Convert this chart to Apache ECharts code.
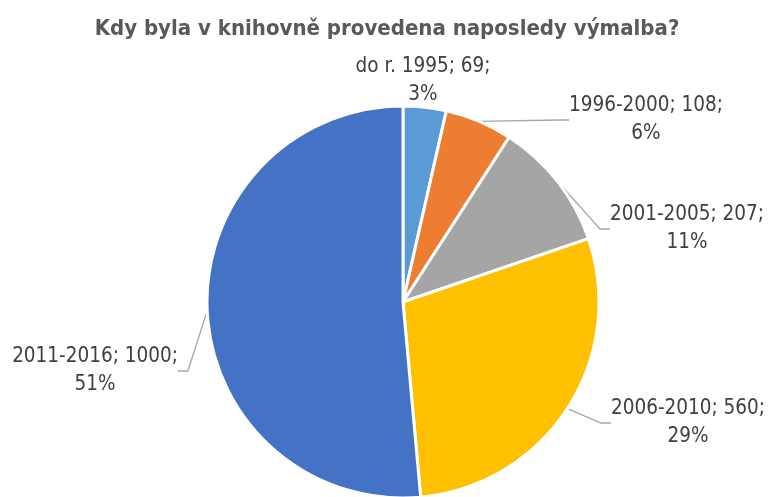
<!DOCTYPE html>
<html>
<head>
<meta charset="utf-8">
<script src="https://cdn.jsdelivr.net/npm/echarts@6/dist/echarts.min.js"></script>
<style>
  html, body { margin: 0; padding: 0; background: #fff; }
  #chart { width: 774px; height: 497px; }
</style>
</head>
<body>
<div id="chart"></div>
<script>
const categories = ['do r. 1995', '1996-2000', '2001-2005', '2006-2010', '2011-2016']
const counts = [69, 108, 207, 560, 1000]
const percents = [3, 6, 11, 29, 51]
const colors = ['#5B9BD5', '#ED7D31', '#A5A5A5', '#FFC000', '#4472C4']

// where each label sits (centre of the text block)
const labelSpots = [
  [423, 81], [646, 120], [687, 229], [688, 423], [95, 371]
]

const font = '"Liberation Sans Narrow", "DejaVu Sans Condensed", "Roboto", sans-serif'

const chart = echarts.init(document.getElementById('chart'))

const option = {
  animation: false,
  title: {
    text: 'Kdy byla v knihovně provedena naposledy výmalba?',
    left: 'center',
    top: 13,
    textStyle: { fontFamily: font, fontSize: 22, fontWeight: 'bold', color: '#595959' }
  },
  series: [
    {
      type: 'pie',
      center: [403, 302],
      radius: 196,
      startAngle: 90,
      clockwise: true,
      itemStyle: { borderColor: '#fff', borderWidth: 3 },
      label: {
        show: true,
        position: 'outside',
        fontFamily: font,
        fontSize: 20.5,
        lineHeight: 28,
        color: '#404040',
        align: 'center',
        formatter: p => `${p.name}; ${p.value};\n${percents[p.dataIndex]}%`
      },
      labelLine: { show: true, lineStyle: { color: '#A6A6A6', width: 1.3 }, length: 10, length2: 10 },
      labelLayout: p => ({
        x: labelSpots[p.dataIndex][0],
        y: labelSpots[p.dataIndex][1],
        align: 'center',
        verticalAlign: 'middle'
      }),
      data: categories.map((name, i) => ({
        name,
        value: counts[i],
        itemStyle: { color: colors[i] },
        labelLine: i === 0 ? { show: false } : undefined
      }))
    }
  ]
}

chart.setOption(option)
</script>
</body>
</html>
